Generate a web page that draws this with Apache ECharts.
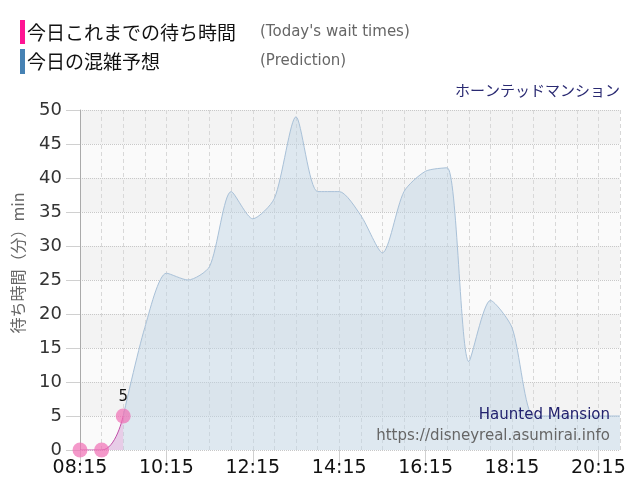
<!DOCTYPE html>
<html><head><meta charset="utf-8">
<script src="https://cdn.jsdelivr.net/npm/echarts@6/dist/echarts.min.js"></script>
<style>html,body{margin:0;padding:0;background:#fff}#c{width:640px;height:500px}</style>
</head><body><div id="c"></div>
<script>
var categories = ['08:15','08:45','09:15','09:45','10:15','10:45','11:15','11:45','12:15','12:45','13:15','13:45','14:15','14:45','15:15','15:45','16:15','16:45','17:15','17:45','18:15','18:45','19:15','19:45','20:15','20:45'];
var todayValues = [0,0,5,null,null,null,null,null,null,null,null,null,null,null,null,null,null,null,null,null,null,null,null,null,null,null];
var predictionValues = [null,null,5,18,26,25,27,38,34,37,49,38,38,34.5,29,38,41,41.5,13,22,18,5,5,5,5,5];
var yTicks = [0,5,10,15,20,25,30,35,40,45,50];

var chart = echarts.init(document.getElementById('c'));
var jp = "'Noto Sans CJK JP', sans-serif";
var lat = "'DejaVu Sans', Verdana, sans-serif";
chart.setOption({
  animation:false,
  grid:{left:80,right:20,top:110,bottom:50,containLabel:false},
  xAxis:{type:'category',data:categories,boundaryGap:false,
    axisLine:{show:false},
    axisTick:{show:true,interval:3,length:15,lineStyle:{color:'#d0d0d0'}},
    axisLabel:{interval:3,margin:9,color:'#111',fontSize:19,fontFamily:lat},
    splitLine:{show:true,interval:0,lineStyle:{color:'#d8d8d8',type:[4,3]}}
  },
  yAxis:{type:'value',min:0,max:50,interval:5,
    axisLine:{show:true,lineStyle:{color:'#aaaaaa'}},
    axisTick:{show:true,length:14,lineStyle:{color:'#d0d0d0'}},
    axisLabel:{margin:18,color:'#333',fontSize:18,fontFamily:lat,
      formatter:function(v){return yTicks.indexOf(v)>=0?String(v):'';}},
    splitLine:{show:true,lineStyle:{color:'#c8c8c8',type:[1,1]}},
    splitArea:{show:true,areaStyle:{color:['#fafafa','#f3f3f3']}}
  },
  series:[
    {name:'prediction',type:'line',data:predictionValues,smooth:0.25,symbol:'none',z:2,
      lineStyle:{color:'#a9c1d8',width:1},
      areaStyle:{color:'rgba(190,210,228,0.65)'}},
    {name:'today',type:'line',data:todayValues,smooth:0.5,z:3,
      symbol:'circle',symbolSize:15,showSymbol:true,showAllSymbol:true,
      itemStyle:{color:'rgba(240,110,180,0.7)'},
      lineStyle:{color:'#c050a8',width:1},
      areaStyle:{color:'rgba(205,140,205,0.6)'},
      label:{show:true,position:'top',distance:4,color:'#111',fontSize:15,fontFamily:lat,
        formatter:function(p){return p.dataIndex===2?String(p.value):'';}}}
  ],
  graphic:[
    {type:'rect',shape:{x:20,y:20,width:5,height:24},style:{fill:'#ff1493'}},
    {type:'rect',shape:{x:20,y:49,width:5,height:25},style:{fill:'#4682b4'}},
    {type:'text',style:{x:27,y:33,text:'今日これまでの待ち時間',font:"19px "+jp,fill:'#111',textVerticalAlign:'middle'}},
    {type:'text',style:{x:27,y:62,text:'今日の混雑予想',font:"19px "+jp,fill:'#111',textVerticalAlign:'middle'}},
    {type:'text',style:{x:260,y:32,text:"(Today's wait times)",font:"15px "+lat,fill:'#666',textVerticalAlign:'middle'}},
    {type:'text',style:{x:260,y:61,text:'(Prediction)',font:"15px "+lat,fill:'#666',textVerticalAlign:'middle'}},
    {type:'text',style:{x:620,y:90,text:'ホーンテッドマンション',font:"15px "+jp,fill:'#2a2a72',textAlign:'right',textVerticalAlign:'middle'}},
    {type:'text',z:10,style:{x:610,y:415,text:'Haunted Mansion',font:"15px "+lat,fill:'#22226e',textAlign:'right',textVerticalAlign:'middle'}},
    {type:'text',z:10,style:{x:610,y:436,text:'https://disneyreal.asumirai.info',font:"15px "+lat,fill:'#666',textAlign:'right',textVerticalAlign:'middle'}},
    {type:'text',x:18,y:263,rotation:Math.PI/2,style:{x:0,y:0,text:'待ち時間（分）min',font:"16px "+jp,fill:'#666',textAlign:'center',textVerticalAlign:'middle'}}
  ]
});
</script></body></html>
